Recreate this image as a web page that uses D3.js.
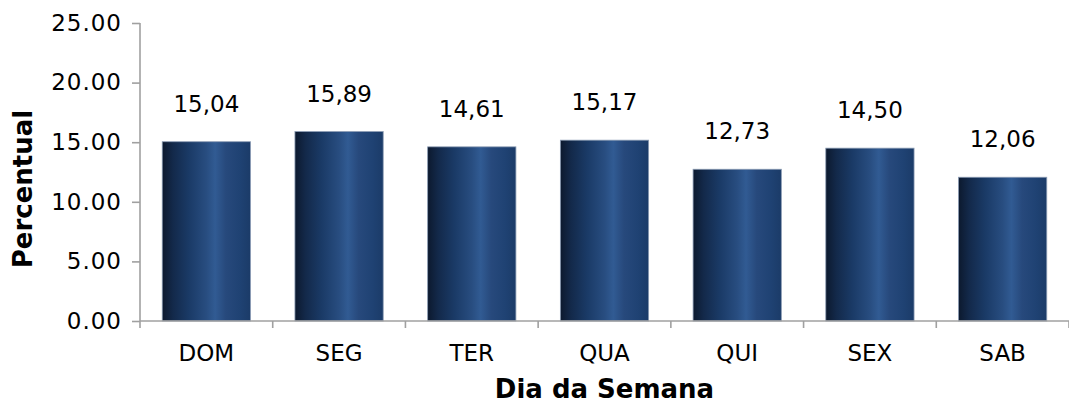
<!DOCTYPE html>
<html>
<head>
<meta charset="utf-8">
<script src="https://cdn.jsdelivr.net/npm/d3@7"></script>
<style>
body { margin:0; background:#fff; }
text { font-family: "DejaVu Sans", Verdana, sans-serif; fill:#000; }
</style>
</head>
<body>
<svg id="chart"></svg>
<script>
// data
var dias = ["DOM","SEG","TER","QUA","QUI","SEX","SAB"];
var percentual = [15.04, 15.89, 14.61, 15.17, 12.73, 14.50, 12.06];
var yTicks = [0, 5, 10, 15, 20, 25];

var drawChart = function(w,h)
{
  var svg = d3.select("#chart")
              .attr("width",w)
              .attr("height",h);

  var margins = {top:23, left:140, right:0, bottom:h-321};
  var width = w - margins.left - margins.right;
  var height = h - margins.top - margins.bottom;

  var xScale = d3.scaleBand()
                 .domain(dias)
                 .range([0,width])
                 .paddingInner(0.335)
                 .paddingOuter(0.1675);
  var yScale = d3.scaleLinear()
                 .domain([0,25])
                 .range([height,0]);

  // horizontal gradient for the bars
  var grad = svg.append("defs").append("linearGradient")
                .attr("id","barGrad")
                .attr("x1","0%").attr("x2","100%")
                .attr("y1","0%").attr("y2","0%");
  var stops = [[0,"#0c192e"],[0.12,"#13294a"],[0.3,"#1a3a66"],[0.5,"#284d80"],
               [0.6,"#315b93"],[0.72,"#27497c"],[0.88,"#1f4273"],[1,"#1b3b68"]];
  stops.forEach(function(s){
    grad.append("stop").attr("offset",s[0]).attr("stop-color",s[1]);
  });

  var plot = svg.append("g")
                .attr("transform","translate("+margins.left+","+margins.top+")");

  plot.selectAll("rect.bar")
      .data(percentual)
      .enter()
      .append("rect")
      .attr("class","bar")
      .attr("x",function(d,i){return xScale(dias[i])})
      .attr("y",function(d){return yScale(d)})
      .attr("width",xScale.bandwidth())
      .attr("height",function(d){return yScale(0)-yScale(d)})
      .attr("fill","url(#barGrad)")
      .attr("stroke","#8a9bb3")
      .attr("stroke-width",0.8);

  plot.selectAll("text.lbl")
      .data(percentual)
      .enter()
      .append("text")
      .attr("class","lbl")
      .attr("x",function(d,i){return xScale(dias[i])+xScale.bandwidth()/2})
      .attr("y",function(d){return yScale(d)-30})
      .attr("text-anchor","middle")
      .style("font-size","23px")
      .text(function(d){return d.toFixed(2).replace(".",",")});

  // y axis
  var yAxis = d3.axisLeft(yScale)
                .tickValues(yTicks)
                .tickSize(8)
                .tickPadding(10)
                .tickFormat(d3.format(".2f"));
  var yg = plot.append("g").call(yAxis);
  yg.select(".domain").attr("stroke","#a0a0a0").attr("stroke-width",1.6)
    .attr("d","M0,"+yScale(25)+"V"+yScale(0));
  yg.selectAll(".tick line").attr("stroke","#a0a0a0").attr("stroke-width",1.6);
  yg.selectAll(".tick text").style("font-size","23px").style("letter-spacing","1px")
    .style("font-family","DejaVu Sans, Verdana, sans-serif").attr("fill","#000");

  // x axis with ticks between categories
  var xg = plot.append("g").attr("transform","translate(0,"+height+")");
  xg.append("line").attr("x1",0).attr("x2",width)
    .attr("stroke","#a0a0a0").attr("stroke-width",1.6);
  var step = xScale.step();
  var bounds = d3.range(dias.length+1).map(function(i){return i*step});
  xg.selectAll("line.tk").data(bounds).enter().append("line")
    .attr("class","tk")
    .attr("x1",function(d){return d}).attr("x2",function(d){return d})
    .attr("y1",0).attr("y2",7)
    .attr("stroke","#a0a0a0").attr("stroke-width",1.6);
  xg.selectAll("text").data(dias).enter().append("text")
    .attr("x",function(d){return xScale(d)+xScale.bandwidth()/2})
    .attr("y",40)
    .attr("text-anchor","middle")
    .style("font-size","23px")
    .text(function(d){return d});

  // axis titles
  svg.append("text")
     .attr("x",margins.left+width/2)
     .attr("y",398)
     .attr("text-anchor","middle")
     .style("font-size","26px")
     .style("font-weight","bold")
     .text("Dia da Semana");

  svg.append("text")
     .attr("transform","translate(32,189) rotate(-90)")
     .attr("text-anchor","middle")
     .style("font-size","26px")
     .style("font-weight","bold")
     .text("Percentual");
}

drawChart(1069,405);
</script>
</body>
</html>
